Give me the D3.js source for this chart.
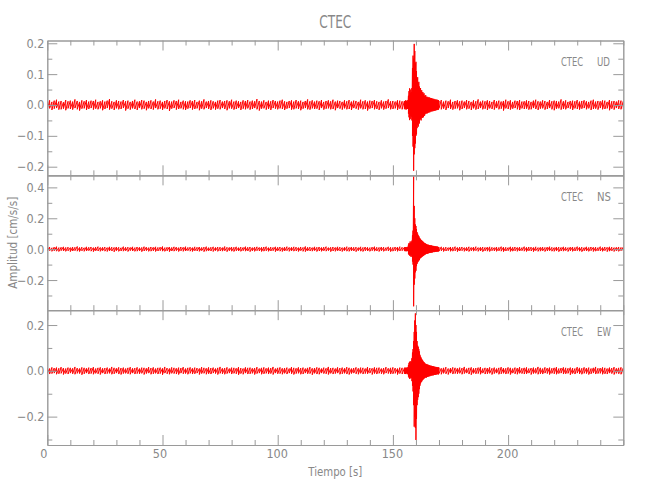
<!DOCTYPE html>
<html><head><meta charset="utf-8">
<script src="https://cdn.jsdelivr.net/npm/d3@7"></script>
<style>
body{margin:0;background:#fff}
text{font-family:"Liberation Sans Narrow","DejaVu Sans Condensed","Roboto Condensed",sans-serif;fill:#888}
</style></head><body><svg id="c" width="650" height="500"></svg>
<script>
// ---- data (amplitudes in 1e-3 cm/s/s, min/max envelope per time bin) ----
const stationName = "CTEC";
const components = ["UD", "NS", "EW"];
const timeGrid = [].concat(d3.range(0,155,1), d3.range(155,170,0.25), d3.range(170,251,1)); // s
const xMajorTicks = [0,50,100,150,200];
const xMinorTicks = d3.range(0,251,10);
const udMajor = [-0.2,-0.1,0,0.1,0.2], udMinor = [-0.15,-0.05,0.05,0.15];
const nsMajor = [-0.2,0,0.2,0.4], nsMinor = [-0.3,-0.1,0.1,0.3];
const ewMajor = [-0.2,0,0.2], ewMinor = [-0.3,-0.1,0.1];

const udHi = [
12,15,10,14,17,11,13,9,16,12,14,11,18,13,10,15,12,16,11,14,
13,17,10,12,15,11,14,19,12,10,15,13,11,16,12,14,10,13,17,11,
12,16,14,10,13,15,11,18,12,14,10,13,16,12,11,15,13,17,10,14,
12,11,15,13,16,10,14,12,18,11,13,15,12,10,14,16,11,13,15,12,
17,11,14,12,10,15,13,16,11,14,12,19,13,11,15,10,14,12,16,13,
11,14,17,12,10,13,15,11,16,12,14,10,13,18,12,15,11,14,12,16,
10,13,15,12,17,11,14,13,10,15,12,16,11,14,13,10,17,12,15,11,
14,13,16,12,10,15,11,13,18,12,13,11,15,14,12,
13,11,15,12,14,10,16,30,45,54,38,50,42,55,120,160,150,198,175,135,
140,110,85,90,70,75,60,50,55,45,48,40,42,35,38,30,28,32,25,27,
24,26,22,25,21,23,20,22,19,21,18,20,17,19,16,18,15,17,14,16,
13,16,11,14,12,17,10,13,15,12,14,11,16,13,10,15,12,18,11,14,
12,15,13,10,16,12,14,11,13,17,12,15,10,14,13,16,11,12,15,13,
10,14,17,12,11,15,13,10,16,12,14,13,11,18,12,15,10,13,14,12,
16,11,13,15,12,10,14,17,11,13,12,15,14,10,16,12,13,11,15,14,
12];
const udLo = [
-13,-11,-16,-12,-10,-15,-14,-12,-17,-11,-13,-15,-10,-14,-18,-12,-11,-16,-13,-10,
-15,-12,-14,-11,-17,-13,-10,-15,-12,-16,-11,-14,-13,-10,-18,-12,-15,-11,-13,-16,
-10,-14,-12,-17,-11,-13,-15,-10,-14,-12,-16,-11,-13,-19,-12,-10,-15,-13,-11,-14,
-16,-12,-10,-15,-13,-11,-17,-12,-14,-10,-13,-16,-11,-15,-12,-14,-10,-13,-17,-11,
-12,-15,-13,-10,-16,-12,-14,-11,-15,-13,-10,-14,-18,-12,-11,-15,-13,-16,-10,-12,
-14,-11,-13,-16,-12,-10,-15,-14,-11,-13,-17,-12,-10,-14,-15,-11,-13,-12,-16,-10,
-15,-12,-11,-14,-13,-17,-10,-12,-15,-11,-14,-13,-16,-10,-12,-15,-11,-14,-13,-18,
-12,-10,-14,-13,-16,-11,-15,-12,-10,-14,-13,-11,-16,-12,-14,
-12,-14,-11,-15,-12,-13,-11,-28,-40,-49,-35,-45,-38,-50,-100,-135,-213,-160,-140,-125,
-100,-95,-75,-65,-70,-55,-60,-48,-45,-50,-40,-42,-38,-40,-32,-35,-30,-26,-28,-24,
-27,-22,-25,-21,-24,-20,-22,-19,-21,-18,-20,-17,-19,-16,-18,-15,-17,-14,-16,-15,
-11,-14,-12,-16,-10,-13,-15,-12,-11,-17,-13,-10,-14,-12,-16,-11,-15,-13,-10,-14,
-12,-16,-11,-13,-15,-10,-14,-12,-18,-11,-13,-15,-12,-10,-14,-16,-11,-13,-12,-15,
-14,-10,-13,-16,-12,-11,-15,-13,-10,-14,-17,-12,-11,-15,-13,-14,-10,-12,-16,-11,
-13,-15,-12,-10,-14,-11,-16,-13,-12,-15,-10,-14,-13,-11,-17,-12,-15,-10,-13,-14,
-12];
const nsHi = [
11,14,9,13,16,10,12,15,11,13,10,14,12,17,11,13,9,15,12,14,
10,13,16,11,12,14,10,15,13,11,14,12,9,16,12,13,11,15,10,14,
12,11,16,13,10,14,12,15,11,13,17,10,12,14,11,15,13,10,14,12,
16,11,13,10,15,12,14,11,13,16,10,12,15,11,14,13,10,17,12,11,
14,12,15,10,13,11,16,12,14,10,13,15,11,12,14,16,10,13,11,15,
12,14,10,13,16,11,12,15,13,10,14,11,17,12,13,10,15,12,14,11,
13,16,10,12,14,11,15,13,10,12,16,11,14,12,13,10,15,11,14,12,
10,13,16,12,11,14,13,10,15,12,11,14,13,16,12,
12,14,11,13,10,15,12,30,40,35,50,38,45,55,90,120,470,280,200,160,
150,130,110,100,90,85,75,70,65,60,58,52,50,45,42,40,38,35,33,30,
28,30,26,27,24,25,22,24,21,22,20,21,18,19,17,18,16,17,15,14,
12,15,11,13,10,14,12,16,11,13,14,10,12,15,11,13,16,10,12,14,
11,13,15,12,10,14,11,16,13,12,10,15,12,14,11,13,10,16,12,14,
13,11,15,10,12,14,11,13,16,12,10,14,13,11,15,12,10,13,14,11,
16,12,13,10,15,11,14,12,13,10,16,11,14,12,15,13,10,12,14,11,
13];
const nsLo = [
-12,-10,-14,-11,-13,-15,-10,-12,-14,-11,-16,-12,-10,-13,-15,-11,-14,-12,-10,-13,
-16,-11,-12,-14,-10,-13,-15,-11,-12,-17,-10,-14,-12,-13,-11,-15,-10,-12,-14,-13,
-11,-16,-12,-10,-14,-13,-11,-15,-12,-10,-13,-14,-11,-16,-12,-13,-10,-15,-11,-14,
-12,-10,-13,-15,-11,-12,-14,-10,-16,-13,-11,-12,-15,-10,-14,-12,-13,-11,-16,-10,
-13,-15,-11,-12,-14,-10,-13,-12,-16,-11,-14,-10,-12,-15,-13,-11,-14,-12,-10,-16,
-11,-13,-15,-12,-10,-14,-11,-13,-12,-15,-10,-14,-16,-11,-12,-13,-10,-15,-12,-14,
-11,-13,-10,-16,-12,-14,-11,-12,-15,-10,-13,-14,-11,-12,-16,-10,-13,-15,-11,-12,
-14,-10,-13,-12,-15,-11,-14,-10,-12,-16,-13,-11,-14,-12,-10,
-11,-13,-12,-14,-10,-13,-12,-30,-38,-42,-35,-48,-40,-50,-80,-100,-370,-230,-190,-150,
-140,-110,-95,-85,-80,-70,-72,-60,-58,-55,-50,-48,-45,-42,-40,-36,-35,-32,-30,-28,
-29,-26,-27,-24,-25,-22,-23,-21,-22,-20,-19,-18,-19,-17,-16,-17,-15,-16,-14,-15,
-13,-11,-15,-12,-10,-14,-13,-11,-16,-12,-10,-14,-12,-15,-11,-13,-10,-14,-12,-16,
-11,-13,-15,-10,-12,-14,-11,-13,-16,-12,-10,-15,-13,-11,-14,-12,-10,-13,-15,-11,
-12,-16,-10,-14,-13,-11,-15,-12,-10,-13,-14,-11,-16,-12,-13,-10,-15,-11,-14,-12,
-10,-13,-16,-11,-12,-14,-10,-15,-13,-11,-12,-14,-10,-16,-13,-11,-15,-12,-14,-10,
-12];
const ewHi = [
13,10,15,12,14,11,16,12,10,14,13,11,17,12,10,15,13,11,14,12,
16,10,13,15,11,12,14,10,17,13,11,15,12,14,10,13,16,11,12,15,
10,14,13,11,16,12,15,10,13,14,11,17,12,10,15,13,11,14,12,16,
10,13,15,11,14,12,10,16,13,11,15,12,14,10,13,17,11,12,15,10,
14,13,11,16,12,10,15,13,14,11,12,16,10,13,15,11,14,12,17,10,
13,15,11,12,14,10,16,13,11,15,12,14,10,13,16,11,12,15,13,10,
14,11,17,12,13,10,15,12,14,11,16,13,10,12,15,11,14,13,10,16,
12,11,15,13,14,10,12,16,11,13,15,12,10,14,13,
12,15,11,13,14,10,16,25,35,40,30,42,38,55,80,95,130,170,220,251,
200,170,130,110,105,95,85,70,62,58,52,48,44,40,38,35,32,30,28,30,
26,27,24,25,22,23,20,22,19,21,18,20,17,18,15,17,16,14,16,15,
14,11,13,16,10,12,15,13,11,14,12,17,10,13,15,11,12,14,16,10,
13,12,15,11,14,10,13,16,12,11,15,13,10,14,12,16,11,13,15,10,
12,14,11,17,13,10,15,12,14,11,13,16,10,12,15,13,11,14,12,10,
16,13,11,15,12,14,10,13,17,11,12,15,13,10,14,12,16,11,13,15,
12];
const ewLo = [
-11,-14,-12,-10,-15,-13,-11,-16,-12,-14,-10,-13,-15,-11,-12,-17,-13,-10,-14,-12,
-15,-11,-13,-16,-10,-14,-12,-11,-15,-13,-10,-14,-16,-12,-11,-13,-15,-10,-14,-12,
-13,-11,-16,-12,-10,-15,-13,-11,-14,-12,-17,-10,-13,-15,-11,-12,-14,-16,-10,-13,
-12,-15,-11,-14,-13,-10,-16,-12,-11,-15,-13,-14,-10,-12,-16,-11,-13,-15,-12,-10,
-14,-11,-13,-17,-12,-15,-10,-14,-13,-11,-16,-12,-10,-15,-13,-11,-14,-12,-16,-10,
-13,-12,-15,-11,-14,-10,-13,-16,-12,-11,-15,-14,-10,-13,-12,-17,-11,-14,-15,-10,
-12,-13,-16,-11,-14,-12,-10,-15,-13,-11,-14,-16,-12,-10,-13,-15,-11,-14,-12,-13,
-10,-16,-12,-14,-11,-13,-15,-10,-12,-14,-13,-11,-16,-12,-14,
-13,-11,-14,-12,-10,-15,-12,-25,-30,-35,-28,-33,-30,-45,-65,-90,-150,-244,-200,-250,
-302,-210,-150,-127,-115,-100,-80,-65,-55,-50,-47,-42,-40,-36,-34,-32,-30,-28,-30,-26,
-27,-24,-25,-22,-24,-20,-22,-19,-21,-18,-20,-17,-18,-16,-17,-15,-16,-15,-13,-16,
-12,-15,-11,-13,-16,-10,-14,-12,-13,-11,-15,-12,-10,-14,-17,-11,-13,-12,-15,-10,
-14,-13,-11,-16,-12,-10,-15,-13,-11,-14,-12,-16,-10,-13,-15,-11,-12,-14,-13,-10,
-16,-12,-11,-15,-13,-14,-10,-12,-16,-11,-13,-15,-12,-10,-14,-13,-11,-17,-12,-14,
-10,-13,-15,-11,-12,-16,-13,-10,-14,-12,-11,-15,-13,-14,-10,-12,-16,-11,-13,-15,
-12];

// ---- layout ----
const svg = d3.select('#c');
const L = 47.3, R = 623.3, T = 40.5, B = 445;
const ph = (B - T) / 3;
const x = d3.scaleLinear().domain([0,250]).range([L,R]);
const axisCol = '#9a9a9a';

const panels = [
  {comp:components[0], hi:udHi, lo:udLo, dom:[-0.228,0.209], major:udMajor, minor:udMinor},
  {comp:components[1], hi:nsHi, lo:nsLo, dom:[-0.395,0.478], major:nsMajor, minor:nsMinor},
  {comp:components[2], hi:ewHi, lo:ewLo, dom:[-0.324,0.265], major:ewMajor, minor:ewMinor}
];

const fmtY = d3.format('.1f');

function styleAxis(g){
  g.selectAll('.domain').attr('stroke', axisCol).attr('stroke-width',1);
  g.selectAll('.tick line').attr('stroke', axisCol).attr('stroke-width',1);
  g.selectAll('.tick text').attr('fill','#888')
    .style('font-family','"Liberation Sans Narrow","DejaVu Sans Condensed",sans-serif')
    .style('font-size','12.5px');
}

panels.forEach((p, k) => {
  const top = T + k*ph, bot = T + (k+1)*ph;
  const y = d3.scaleLinear().domain(p.dom).range([bot, top]);

  svg.append('clipPath').attr('id','clip'+k).append('rect')
    .attr('x',L).attr('y',top).attr('width',R-L).attr('height',bot-top);

  // trace: zigzag through min/max of each bin
  const pts = [];
  timeGrid.forEach((t,i) => { pts.push([t, p.hi[i]/1000]); pts.push([t, p.lo[i]/1000]); });
  svg.append('path').attr('clip-path','url(#clip'+k+')')
    .attr('d', d3.line().x(d=>x(d[0])).y(d=>y(d[1]))(pts))
    .attr('fill','none').attr('stroke','#ff0000').attr('stroke-width',1);

  svg.append('g').attr('transform',`translate(${L},0)`)
    .call(d3.axisLeft(y).tickValues(p.major).tickSizeInner(-10).tickSizeOuter(0).tickPadding(3).tickFormat(fmtY))
    .call(styleAxis);
  svg.append('g').attr('transform',`translate(${L},0)`)
    .call(d3.axisLeft(y).tickValues(p.minor).tickSizeInner(-5).tickSizeOuter(0).tickFormat(''))
    .call(styleAxis);
  svg.append('g').attr('transform',`translate(${R},0)`)
    .call(d3.axisRight(y).tickValues(p.major).tickSizeInner(-10).tickSizeOuter(0).tickFormat(''))
    .call(styleAxis);
  svg.append('g').attr('transform',`translate(${R},0)`)
    .call(d3.axisRight(y).tickValues(p.minor).tickSizeInner(-5).tickSizeOuter(0).tickFormat(''))
    .call(styleAxis);
  const xMinorOnly = xMinorTicks.filter(v=>!xMajorTicks.includes(v));
  svg.append('g').attr('transform',`translate(0,${top})`)
    .call(d3.axisTop(x).tickValues(xMinorOnly).tickSizeInner(-5).tickSizeOuter(0).tickFormat(''))
    .call(styleAxis);
  svg.append('g').attr('transform',`translate(0,${top})`)
    .call(d3.axisTop(x).tickValues(xMajorTicks).tickSizeInner(-10).tickSizeOuter(0).tickFormat(''))
    .call(styleAxis);
  svg.append('g').attr('transform',`translate(0,${bot})`)
    .call(d3.axisBottom(x).tickValues(xMinorOnly).tickSizeInner(-5).tickSizeOuter(0).tickFormat(''))
    .call(styleAxis);
  const bx = svg.append('g').attr('transform',`translate(0,${bot})`)
    .call(d3.axisBottom(x).tickValues(xMajorTicks).tickSizeInner(-10).tickSizeOuter(0).tickPadding(4)
      .tickFormat(k===2 ? d3.format('d') : ''))
    .call(styleAxis);
  if (k===2) {
    // small left offset of short labels, as in the original
    bx.selectAll('.tick text').attr('dx', d => d===0 ? -4 : (d<100 ? -3 : -1));
  }

  svg.append('text').attr('x',561).attr('y',top+25.5).attr('textLength',22).attr('lengthAdjust','spacingAndGlyphs')
    .style('font-size','13px').text(stationName);
  svg.append('text').attr('x',597).attr('y',top+25.5).attr('textLength',p.comp==='UD'?13:14).attr('lengthAdjust','spacingAndGlyphs')
    .style('font-size','13px').text(p.comp);
});

svg.append('text').attr('x',(L+R)/2).attr('y',28).attr('text-anchor','middle')
  .attr('textLength',32).attr('lengthAdjust','spacingAndGlyphs')
  .style('font-size','18px').text(stationName);
svg.append('text').attr('x',(L+R)/2).attr('y',476).attr('text-anchor','middle')
  .attr('textLength',54).attr('lengthAdjust','spacingAndGlyphs')
  .style('font-size','13px').text('Tiempo [s]');
svg.append('text').attr('transform',`translate(16.7,${(T+B)/2}) rotate(-90)`).attr('text-anchor','middle')
  .attr('textLength',92).attr('lengthAdjust','spacingAndGlyphs')
  .style('font-size','13px').text('Amplitud [cm/s/s]');
</script></body></html>
